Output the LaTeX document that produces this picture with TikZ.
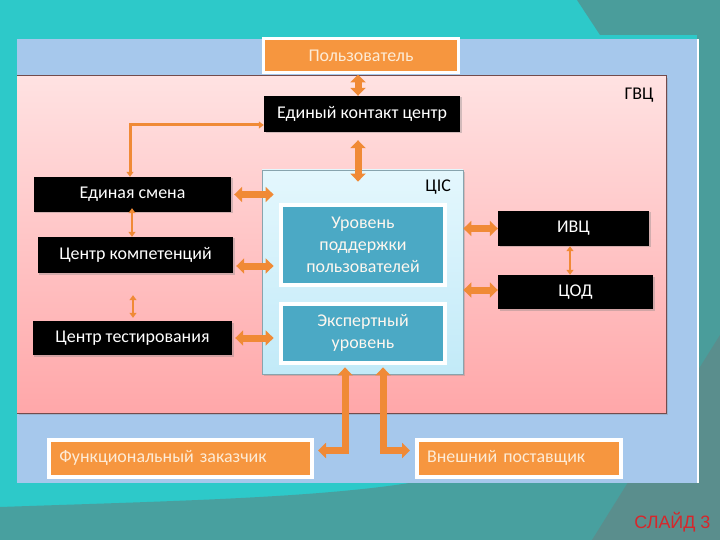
\documentclass[tikz,border=0pt]{standalone}
\usepackage{fontspec}
\setmainfont{Carlito}
\newfontfamily\slidefont{Liberation Sans}
\usetikzlibrary{arrows.meta,shadows}
\definecolor{bgteal}{HTML}{2DC9C9}
\definecolor{darkteal}{HTML}{4A9D9B}
\definecolor{greyteal}{HTML}{5A8E8D}
\definecolor{panelblue}{HTML}{A6C8EC}
\definecolor{pinktop}{HTML}{FFE2E2}
\definecolor{pinkbot}{HTML}{FFA7A9}
\definecolor{cistop}{HTML}{E4F7FD}
\definecolor{cisbot}{HTML}{C2EAF8}
\definecolor{levelblue}{HTML}{4BA9C5}
\definecolor{orangefill}{HTML}{F6963F}
\definecolor{orangetext}{HTML}{FDEBD6}
\definecolor{arroworange}{HTML}{F08A36}
\definecolor{slidered}{HTML}{D7262B}
\begin{document}
\begin{tikzpicture}[x=1bp,y=-1bp,
    blackbox/.style={fill=black, text=white, font=\fontsize{18}{22}\selectfont,
      drop shadow={opacity=0.35, shadow xshift=1.5bp, shadow yshift=-1.5bp}},
    orangebox/.style={fill=orangefill, draw=white, line width=3bp, text=orangetext,
      font=\fontsize{18}{22}\selectfont,
      drop shadow={opacity=0.35, shadow xshift=1bp, shadow yshift=-1.5bp}},
    levelbox/.style={fill=levelblue, draw=white, line width=4bp, text=orangetext!40!white,
      align=center, font=\fontsize{18}{22}\selectfont},
    link/.style={draw=arroworange, line width=7bp,
      {Triangle[width=15bp,length=8bp]}-{Triangle[width=15bp,length=8bp]}},
    thinlink/.style={draw=arroworange, line width=2.5bp,
      {Triangle[width=7bp,length=5bp]}-{Triangle[width=7bp,length=5bp]}}]
\useasboundingbox (0,0) rectangle (720,540);
\fill [bgteal] (0,0) rectangle (720,540);
\fill [darkteal] (577,0) -- (600,35) -- (697,35) -- (697,540) -- (720,540) -- (720,0) -- cycle;
\fill [darkteal!92!bgteal] (0,507) .. controls (200,500) and (380,497) .. (470,470) -- (720,380) -- (720,540) -- (0,540) -- cycle;
\fill [greyteal] (592,540) -- (720,335) -- (720,540) -- cycle;
\fill [panelblue] (17,39) rectangle (697,483);
\draw [white, line width=2bp] (698,39) -- (698,483);
\shade [top color=pinktop, bottom color=pinkbot,
  drop shadow={opacity=0.3, shadow xshift=1.5bp, shadow yshift=-2bp}] (17,76) rectangle (666,413);
\draw [black!55!pinkbot, line width=1bp] (17,76) -- (666,76) -- (666,413) -- (17,413);
\node [anchor=north east, font=\fontsize{18}{22}\selectfont] (gvc) at (657,84) {ГВЦ};
\node [orangebox, minimum width=195bp, minimum height=34bp] (polz) at (361,56) {Пользователь};
\node [blackbox, minimum width=196bp, minimum height=36bp] (kontakt) at (362,114) {Единый контакт центр};
\node [draw=black!30!cisbot, line width=0.8bp, top color=cistop, bottom color=cisbot,
  minimum width=201bp, minimum height=204bp,
  drop shadow={opacity=0.3, shadow xshift=1.5bp, shadow yshift=-2bp}] (cis) at (362.5,272) {};
\node [anchor=north east, font=\fontsize{18}{22}\selectfont] (cislabel) at ([xshift=-9bp,yshift=-7bp]cis.north east) {ЦІС};
\node [levelbox, minimum width=164bp, minimum height=80bp] (urov) at (363,245) {Уровень\\поддержки\\пользователей};
\node [levelbox, minimum width=164bp, minimum height=59bp] (expert) at (363,333) {Экспертный\\уровень};
\node [blackbox, minimum width=197bp, minimum height=35bp] (smena) at (132.5,194.5) {Единая смена};
\node [blackbox, minimum width=195bp, minimum height=36bp] (komp) at (135.5,255) {Центр компетенций};
\node [blackbox, minimum width=199bp, minimum height=34bp] (test) at (132.5,338) {Центр тестирования};
\node [blackbox, minimum width=151bp, minimum height=35bp] (ivc) at (573.5,228.5) {ИВЦ};
\node [blackbox, minimum width=155bp, minimum height=34bp] (cod) at (575.5,292) {ЦОД};
\node [orangebox, line width=4bp, minimum height=37bp, inner xsep=10bp, text width=242bp, align=left] (zakaz) at (180.5,458) {Функциональный заказчик};
\node [orangebox, line width=4bp, minimum height=37bp, inner xsep=10bp, text width=184bp, align=left] (postav) at (519,458) {Внешний поставщик};
\node [anchor=south east, text=slidered, font=\slidefont\fontsize{18}{20}\selectfont] (slide) at (714,536) {СЛАЙД 3};
\draw [link] ([xshift=-3bp]polz.south) -- ([xshift=-3bp]polz.south |- kontakt.north);
\draw [link, shorten <=8bp, shorten >=-12bp] ([xshift=-4bp]kontakt.south) -- ([xshift=-4bp]kontakt.south |- cis.north);
\draw [thinlink, line width=3bp] ([yshift=-11bp]kontakt.west) -| ([xshift=-2.5bp]smena.north);
\draw [link, shorten <=3bp, shorten >=-12bp] (smena.east) -- (smena.east -| cis.west);
\draw [link, shorten <=3bp, shorten >=-12bp] ([yshift=-11bp]komp.east) -- ([yshift=-11bp]komp.east -| cis.west);
\draw [link, shorten <=3bp, shorten >=-12bp] (test.east) -- (test.east -| cis.west);
\draw [thinlink, shorten <=-4bp] ([xshift=-0.5bp]smena.south) -- ([xshift=-0.5bp]smena.south |- komp.north);
\draw [thinlink, shorten <=22bp, shorten >=3bp] ([xshift=-2.5bp]komp.south) -- ([xshift=-2.5bp]komp.south |- test.north);
\draw [link] (ivc.west -| cis.east) -- (ivc.west);
\draw [link] ([yshift=2bp]cod.west -| cis.east) -- ([yshift=2bp]cod.west);
\draw [thinlink] ([xshift=-3.5bp]ivc.south) -- ([xshift=-3.5bp]ivc.south |- cod.north);
\draw [link, shorten <=-7bp, shorten >=4.5bp] ([xshift=-17.5bp]cis.south) |- ([yshift=7.5bp]zakaz.east);
\draw [link, shorten <=-7bp, shorten >=5bp] ([xshift=20.5bp]cis.south) |- ([yshift=7.5bp]postav.west);
\end{tikzpicture}
\end{document}
